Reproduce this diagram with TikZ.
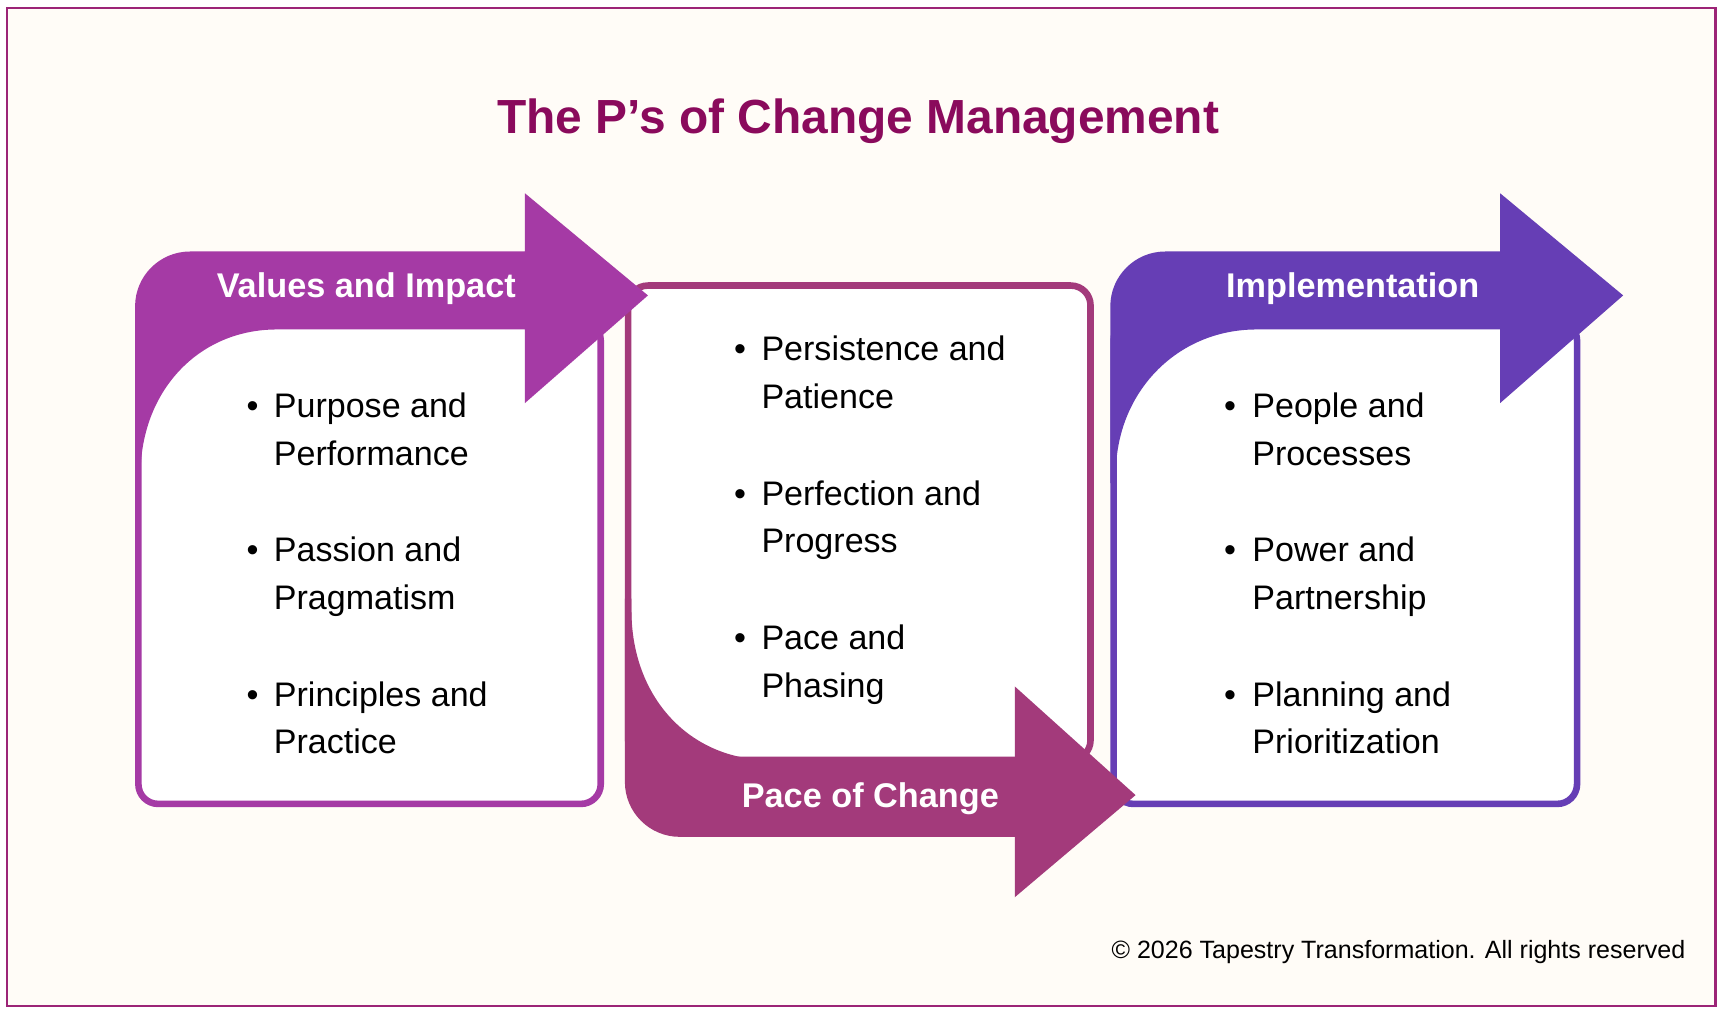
\documentclass[tikz,border=0pt]{standalone}
\usepackage{fontspec}
\setmainfont{Liberation Sans}
\definecolor{bgc}{HTML}{FFFCF7}
\definecolor{framec}{HTML}{9C2477}
\definecolor{titlec}{HTML}{8A0A5C}
\definecolor{leftc}{HTML}{A53AA5}
\definecolor{midc}{HTML}{A33A7B}
\definecolor{rightc}{HTML}{663EB5}
\begin{document}
\begin{tikzpicture}[x=0.5pt,y=-0.5pt,
  panelbox/.style={line width=3pt, fill=white, rounded corners=9pt},
  titletext/.style={font=\fontsize{21.8}{26}\selectfont\bfseries, text=titlec, inner sep=0pt, anchor=base},
  headtext/.style={font=\fontsize{15.6}{19}\selectfont\bfseries, text=white, inner sep=0pt, anchor=base},
  itemtext/.style={font=\fontsize{15.5}{21.75}\selectfont, align=left, inner sep=0pt, anchor=base west},
  bullettext/.style={font=\fontsize{15.5}{21.75}\selectfont, inner sep=0pt, anchor=base},
  copytext/.style={font=\fontsize{11.4}{14}\selectfont, inner sep=0pt, anchor=base east}]
\useasboundingbox (0,0) rectangle (1568,921.5);
\fill[white] (0,0) rectangle (1568,921.5);
\draw[draw=framec, line width=1pt, fill=bgc] (6.5,7.3) rectangle (1562,916);

\node[titletext] (title) at (781.5,121.4) {The P’s of Change Management};

% boxes
\draw[panelbox, draw=leftc] (126,292) rectangle (547,732);
\draw[panelbox, draw=midc] (572,260) rectangle (993,692);
\draw[panelbox, draw=rightc] (1014,292) rectangle (1436,732);

% left arrow
\fill[leftc] (123,440) -- (123,279) .. controls (123,251.4) and (145.4,229) .. (173,229)
  -- (478,229) -- (478,176) -- (590,269) -- (478,367) -- (478,300) -- (252,300)
  .. controls (180,300) and (128,357) .. (128,432) -- (128,440) -- cycle;
% right arrow
\begin{scope}[shift={(888,0)}]
\fill[rightc] (123,440) -- (123,279) .. controls (123,251.4) and (145.4,229) .. (173,229)
  -- (478,229) -- (478,176) -- (590,269) -- (478,367) -- (478,300) -- (256,300)
  .. controls (184,300) and (128,357) .. (128,432) -- (128,440) -- cycle;
\end{scope}
% middle arrow
\fill[midc] (569,545) -- (569,712) .. controls (569,739.6) and (591.4,762) .. (619,762)
  -- (924,762) -- (924,817) -- (1034,724) -- (924,625) -- (924,692) -- (701,692)
  .. controls (628,692) and (575,635) .. (575,556) -- (575,545) -- cycle;

% headers
\node[headtext] (h1) at (333.5,270.5) {Values and Impact};
\node[headtext] (h2) at (792.5,735) {Pace of Change};
\node[headtext] (h3) at (1231.7,270.5) {Implementation};

% left items (anchor = baseline of second line)
\node[itemtext] (l1) at (249,423.5) {Purpose and\\Performance};
\node[itemtext] (l2) at (249,555) {Passion and\\Pragmatism};
\node[itemtext] (l3) at (249,686.5) {Principles and\\Practice};
\node[bullettext] (lb1) at (230,380) {•};
\node[bullettext] (lb2) at (230,511.5) {•};
\node[bullettext] (lb3) at (230,643) {•};

% middle items
\node[itemtext] (m1) at (693,372) {Persistence and\\Patience};
\node[itemtext] (m2) at (693,503.5) {Perfection and\\Progress};
\node[itemtext] (m3) at (693,635) {Pace and\\Phasing};
\node[bullettext] (mb1) at (674,328.5) {•};
\node[bullettext] (mb2) at (674,460) {•};
\node[bullettext] (mb3) at (674,591.5) {•};

% right items
\node[itemtext] (r1) at (1140,423.5) {People and\\Processes};
\node[itemtext] (r2) at (1140,555) {Power and\\Partnership};
\node[itemtext] (r3) at (1140,686.5) {Planning and\\Prioritization};
\node[bullettext] (rb1) at (1120,380) {•};
\node[bullettext] (rb2) at (1120,511.5) {•};
\node[bullettext] (rb3) at (1120,643) {•};

\node[copytext] (copy) at (1535,872.5) {© 2026 Tapestry Transformation. All rights reserved};
\end{tikzpicture}
\end{document}
